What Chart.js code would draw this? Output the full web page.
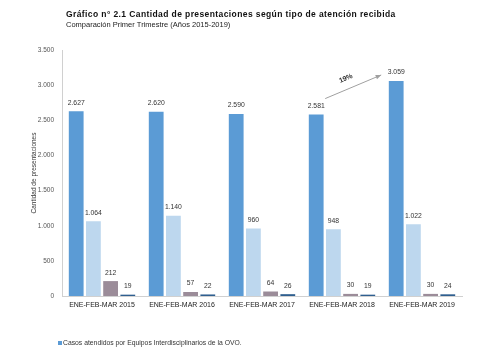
<!DOCTYPE html>
<html><head><meta charset="utf-8">
<script src="https://cdn.jsdelivr.net/npm/chart.js@4"></script>
<style>html,body{margin:0;padding:0;background:#fff}#w{width:500px;height:352px}</style>
</head><body><div id="w"><canvas id="c"></canvas></div>
<script>
const categories = ["ENE-FEB-MAR 2015","ENE-FEB-MAR 2016","ENE-FEB-MAR 2017","ENE-FEB-MAR 2018","ENE-FEB-MAR 2019"];
const seriesNames = ["Casos atendidos por Equipos Interdisciplinarios de la OVO.","Serie 2","Serie 3","Serie 4"];
const equiposOVO = [2627, 2620, 2590, 2581, 3059];
const serie2 = [1064, 1140, 960, 948, 1022];
const serie3 = [212, 57, 64, 30, 30];
const serie4 = [19, 22, 26, 19, 24];
const yTicks = [0, 500, 1000, 1500, 2000, 2500, 3000, 3500];
const growthLabel = "19%";
const titleText = "Gráfico n° 2.1 Cantidad de presentaciones según tipo de atención recibida";
const subtitleText = "Comparación Primer Trimestre (Años 2015-2019)";
const colors = ["#5b9bd5", "#bdd7ee", "#9b8c99", "#2f5f8f"];

const fmt = v => String(v).replace(/\B(?=(\d{3})+(?!\d))/g, ".");
const FONT = "'Liberation Sans', Arial, sans-serif";

const decorPlugin = {
  id: 'decor',
  afterDraw(chart) {
    const ctx = chart.ctx;
    ctx.save();
    // title & subtitle
    ctx.textAlign = "left"; ctx.textBaseline = "middle";
    ctx.fillStyle = "#111";
    ctx.font = "bold 8.5px " + FONT;
    ctx.letterSpacing = "0.4px";
    ctx.fillText(titleText, 66, 15);
    ctx.letterSpacing = "0px";
    ctx.font = "7.5px " + FONT;
    ctx.fillStyle = "#222";
    ctx.fillText(subtitleText, 66, 25);
    // legend (first series)
    ctx.fillStyle = colors[0];
    ctx.fillRect(58, 341, 4, 4);
    ctx.fillStyle = "#333";
    ctx.font = "6.8px " + FONT;
    ctx.fillText(seriesNames[0], 63, 343.5);
    ctx.restore();
  },
  afterDatasetsDraw(chart) {
    const ctx = chart.ctx;
    ctx.save();
    ctx.font = "6.8px " + FONT;
    ctx.fillStyle = "#333";
    ctx.textAlign = "center";
    ctx.textBaseline = "bottom";
    chart.data.datasets.forEach((ds, i) => {
      chart.getDatasetMeta(i).data.forEach((bar, j) => {
        ctx.fillText(fmt(ds.data[j]), bar.x, bar.y - 5);
      });
    });
    // growth arrow between 2018 and 2019 first series
    const m = chart.getDatasetMeta(0).data;
    const a = m[3], b = m[4];
    const x1 = a.x + 9, y1 = a.y - 16, x2 = b.x - 15, y2 = b.y - 6;
    ctx.strokeStyle = "#a0a0a0"; ctx.fillStyle = "#a0a0a0"; ctx.lineWidth = 1;
    ctx.beginPath(); ctx.moveTo(x1, y1); ctx.lineTo(x2, y2); ctx.stroke();
    const ang = Math.atan2(y2 - y1, x2 - x1);
    ctx.beginPath();
    ctx.moveTo(x2, y2);
    ctx.lineTo(x2 - 6 * Math.cos(ang - 0.4), y2 - 6 * Math.sin(ang - 0.4));
    ctx.lineTo(x2 - 6 * Math.cos(ang + 0.4), y2 - 6 * Math.sin(ang + 0.4));
    ctx.closePath(); ctx.fill();
    ctx.translate((x1 + x2) / 2 - 6, (y1 + y2) / 2 - 5);
    ctx.rotate(ang);
    ctx.font = "bold 7px " + FONT;
    ctx.fillStyle = "#333";
    ctx.textAlign = "center"; ctx.textBaseline = "bottom";
    ctx.fillText(growthLabel, 0, 0);
    ctx.restore();
  }
};

new Chart(document.getElementById('c'), {
  type: 'bar',
  data: {
    labels: categories,
    datasets: [equiposOVO, serie2, serie3, serie4].map((d, i) => ({
      label: seriesNames[i], data: d, backgroundColor: colors[i],
      categoryPercentage: 0.86, barPercentage: 0.86
    }))
  },
  options: {
    responsive: true, maintainAspectRatio: false, animation: false,
    layout: { padding: { left: 24, right: 38, top: 50, bottom: 16 } },
    plugins: {
      title: { display: false },
      legend: { display: false },
      tooltip: { enabled: false }
    },
    scales: {
      x: {
        grid: { display: false, drawTicks: false },
        border: { color: '#d0d0d0' },
        ticks: { color: '#222', font: { family: FONT, size: 7 }, padding: 5, maxRotation: 0 },
        afterFit(s) { s.height = 40; }
      },
      y: {
        min: 0, max: 3500,
        afterBuildTicks(s) { s.ticks = yTicks.map(v => ({ value: v })); },
        grid: { display: false, drawTicks: false },
        border: { color: '#d0d0d0' },
        ticks: { color: '#555', font: { family: FONT, size: 6.5 }, padding: 8, callback: v => fmt(v) },
        title: { display: true, text: "Cantidad de presentaciones", color: '#333', font: { family: FONT, size: 6.5 }, padding: 6 },
        afterFit(s) { s.width = 38; }
      }
    }
  },
  plugins: [decorPlugin]
});
</script></body></html>
